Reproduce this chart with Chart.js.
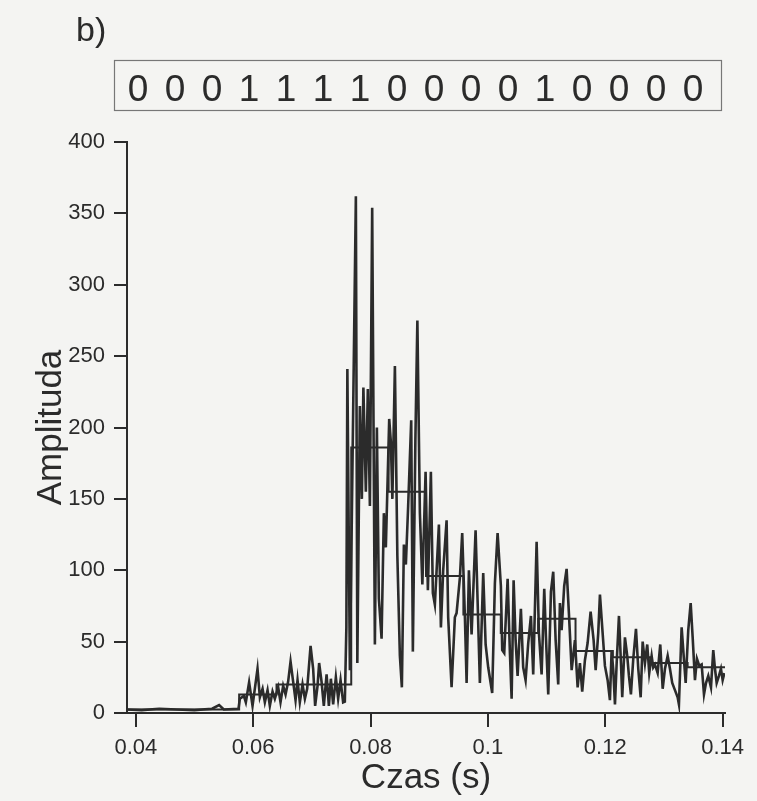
<!DOCTYPE html>
<html>
<head>
<meta charset="utf-8">
<title>Amplituda</title>
<script src="https://cdn.jsdelivr.net/npm/chart.js@4.4.1/dist/chart.umd.min.js"></script>
<style>
  html, body { margin: 0; padding: 0; background: #f4f4f2; }
  #wrap { position: relative; width: 757px; height: 801px; }
</style>
</head>
<body>
<div id="wrap"><canvas id="chart" width="757" height="801"></canvas></div>
<script>
// Recorded signal: time (ms) and amplitude at each vertex of the trace
const timeMs = [
  38.5, 41.0, 44.0, 47.0, 50.0, 53.0, 54.2, 55.0, 57.5, 57.73,
  58.41, 58.75, 59.31, 59.89, 60.74, 61.14, 61.60, 61.99, 62.45, 62.84,
  63.30, 63.69, 64.26, 64.66, 65.11, 65.52, 65.96, 66.37, 66.81, 67.22,
  67.56, 67.95, 68.41, 68.81, 69.20, 69.78, 70.22, 70.56, 70.97, 71.24,
  71.65, 72.04, 72.51, 72.90, 73.24, 73.63, 74.09, 74.48, 74.89, 75.33,
  75.62, 75.88, 76.05, 76.48, 77.50, 77.75, 78.18, 78.52, 78.78, 79.20,
  79.54, 79.89, 80.28, 80.74, 81.08, 81.42, 81.88, 82.27, 82.61, 83.18,
  83.46, 83.72, 84.15, 84.57, 85.00, 85.34, 85.68, 86.02, 86.41, 86.93,
  87.21, 87.64, 87.98, 88.41, 88.83, 89.38, 89.77, 90.28, 90.62, 90.96,
  91.65, 91.99, 92.38, 92.96, 93.23, 93.81, 94.37, 94.66, 95.23, 95.62,
  96.08, 96.37, 96.76, 97.22, 97.90, 98.24, 98.63, 99.20, 99.61, 100.05,
  100.73, 101.19, 101.65, 102.21, 102.44, 102.78, 103.36, 103.75, 104.04, 104.38,
  104.72, 105.06, 105.62, 106.01, 106.42, 106.87, 107.33, 107.72, 108.30, 108.69,
  109.15, 109.60, 109.88, 110.28, 110.74, 111.13, 111.54, 111.98, 112.27, 112.56,
  113.00, 113.41, 113.80, 114.27, 114.83, 115.29, 115.68, 116.07, 116.53, 116.99,
  117.50, 118.01, 118.36, 118.80, 119.09, 119.48, 119.94, 120.40, 120.79, 121.08,
  121.36, 121.65, 121.94, 122.33, 122.67, 122.89, 123.35, 123.74, 124.03, 124.37,
  124.77, 125.23, 125.62, 126.03, 126.37, 126.76, 127.15, 127.49, 127.90, 128.17,
  128.46, 128.92, 129.37, 129.78, 130.17, 130.63, 131.02, 131.41, 131.87, 132.33,
  132.55, 133.01, 133.36, 133.70, 134.14, 134.55, 134.89, 135.28, 135.62, 136.02,
  136.42, 136.82, 137.16, 137.55, 138.01, 138.40, 138.69, 138.98, 139.37, 139.71,
  140.00, 140.30
];
const amplitude = [
  2.5, 2, 3, 2.5, 2, 3, 5.5, 2.5, 3, 10,
  12, 7.5, 21.5, 5, 31, 11, 17, 7.5, 16, 5,
  15, 10, 18, 7.5, 19, 13, 22, 36, 22, 9,
  23, 7.5, 20, 10, 17, 47, 31, 5, 19, 35,
  22, 5, 27, 5, 24, 6, 25, 10, 23, 7.5,
  8, 60, 241, 30, 362, 35, 215, 150, 228, 155,
  227, 145, 354, 48, 200, 80, 52, 140, 116, 206,
  190, 150, 243, 110, 40, 18, 118, 104, 145, 205,
  43, 191, 275, 140, 90, 169, 86, 169, 84, 76,
  132, 60, 100, 135, 67, 18, 67, 70, 95, 126,
  67, 21, 100, 55, 128, 79, 21, 98, 48, 32,
  14, 91, 126, 89, 44, 42, 94, 42, 10, 93,
  51, 26, 73, 32, 23, 49, 68, 27, 120, 56,
  27, 87, 54, 13, 85, 99, 51, 20, 77, 58,
  89, 101, 70, 30, 51, 18, 35, 15, 37, 49,
  71, 51, 30, 56, 83, 60, 33, 23, 9, 44,
  30, 6, 35, 68, 35, 11, 53, 40, 26, 13,
  38, 59, 31, 11, 50, 35, 48, 28, 40, 32,
  34, 28, 48, 17, 31, 40, 31, 21, 16, 11,
  6, 60, 40, 21, 58, 77, 53, 23, 38, 33,
  34, 13, 21, 26, 18, 44, 31, 21, 26, 31,
  23, 28
];

// Mean level of each of the 16 windows (edges in ms)
const segEdgesMs = [
  38.5, 44.87, 51.24, 57.61, 63.98, 70.34, 76.71, 83.08, 89.45,
  95.82, 102.19, 108.56, 114.93, 121.29, 127.66, 134.03, 140.4
];
const segLevels = [2.5, 2.5, 2.5, 13, 20, 20, 186, 155, 96, 69, 56, 66, 43.5, 39, 35, 32];

// Code word shown above the plot
const bits = ['0','0','0','1','1','1','1','0','0','0','0','1','0','0','0','0'];

const xTicks = [0.04, 0.06, 0.08, 0.1, 0.12, 0.14];
const xTickLabels = ['0.04', '0.06', '0.08', '0.1', '0.12', '0.14'];
const yTicks = [0, 50, 100, 150, 200, 250, 300, 350, 400];
const yTickLabels = ['0', '50', '100', '150', '200', '250', '300', '350', '400'];

const INK = '#2b2b2b';
const FONT = "'Liberation Sans', Arial, Helvetica, sans-serif";

const tracePoints = timeMs.map((t, i) => ({ x: t / 1000, y: amplitude[i] }));
const stepPoints = segLevels.map((v, i) => ({ x: segEdgesMs[i] / 1000, y: v }));
stepPoints.push({ x: segEdgesMs[segEdgesMs.length - 1] / 1000, y: segLevels[segLevels.length - 1] });

// paper background, panel letter and the boxed code word
const pagePlugin = {
  id: 'page',
  beforeDraw(chart) {
    const ctx = chart.ctx;
    ctx.save();
    ctx.fillStyle = '#f4f4f2';
    ctx.fillRect(0, 0, chart.width, chart.height);
    ctx.restore();
  },
  afterDraw(chart) {
    const ctx = chart.ctx;
    ctx.save();
    ctx.fillStyle = INK;
    ctx.textBaseline = 'alphabetic';
    ctx.font = '34px ' + FONT;
    ctx.textAlign = 'left';
    ctx.fillText('b)', 76, 41);

    ctx.strokeStyle = '#777';
    ctx.lineWidth = 1.2;
    ctx.strokeRect(114.5, 60.5, 607, 50);

    ctx.font = '37px ' + FONT;
    ctx.textAlign = 'center';
    bits.forEach((b, i) => ctx.fillText(b, 138 + i * 37, 101));
    ctx.restore();
  }
};

new Chart(document.getElementById('chart'), {
  type: 'line',
  data: {
    datasets: [
      {
        label: 'sygnał',
        data: tracePoints,
        borderColor: INK,
        borderWidth: 2.6,
        pointRadius: 0,
        tension: 0
      },
      {
        label: 'poziom',
        data: stepPoints,
        stepped: true,
        borderColor: INK,
        borderWidth: 2,
        pointRadius: 0
      }
    ]
  },
  options: {
    responsive: false,
    devicePixelRatio: 1,
    animation: false,
    layout: { padding: { top: 142, right: 32, left: 0, bottom: 0 } },
    plugins: { legend: { display: false }, tooltip: { enabled: false } },
    scales: {
      x: {
        type: 'linear',
        min: 0.0385,
        max: 0.1404,
        afterBuildTicks: s => { s.ticks = xTicks.map(v => ({ value: v })); },
        afterFit: s => { s.height = 88; },
        ticks: {
          autoSkip: false,
          maxRotation: 0,
          padding: 8,
          color: INK,
          font: { size: 22, family: FONT },
          callback: (v, i) => xTickLabels[i]
        },
        grid: { drawOnChartArea: false, drawTicks: true, tickLength: 14, color: INK, lineWidth: 2 },
        border: { display: true, color: INK, width: 2 },
        title: {
          display: true,
          text: 'Czas (s)',
          color: INK,
          font: { size: 35, family: FONT },
          padding: { top: 0, bottom: 2 }
        }
      },
      y: {
        type: 'linear',
        min: 0,
        max: 400,
        afterBuildTicks: s => { s.ticks = yTicks.map(v => ({ value: v })); },
        afterFit: s => { s.width = 127; },
        ticks: {
          padding: 9,
          color: INK,
          font: { size: 22, family: FONT },
          callback: (v, i) => yTickLabels[i]
        },
        grid: { drawOnChartArea: false, drawTicks: true, tickLength: 13, color: INK, lineWidth: 2 },
        border: { display: true, color: INK, width: 2 },
        title: {
          display: true,
          text: 'Amplituda',
          color: INK,
          font: { size: 35, family: FONT },
          padding: { top: 30, bottom: 0 }
        }
      }
    }
  },
  plugins: [pagePlugin]
});
</script>
</body>
</html>
